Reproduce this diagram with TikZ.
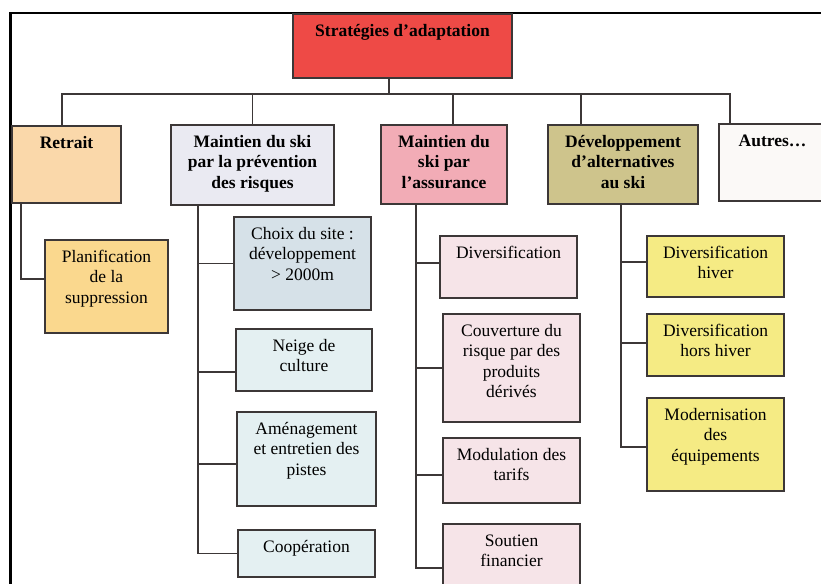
\documentclass[tikz,border=0pt]{standalone}
\usepackage{fontspec}
\setmainfont{Liberation Serif}
\usepackage{tikz}

\definecolor{rootred}{RGB}{238,74,70}
\definecolor{peach}{RGB}{250,216,170}
\definecolor{apricot}{RGB}{250,216,142}
\definecolor{lavender}{RGB}{234,234,242}
\definecolor{greyblue}{RGB}{214,225,232}
\definecolor{icecyan}{RGB}{228,240,242}
\definecolor{rosepink}{RGB}{242,172,182}
\definecolor{palepink}{RGB}{246,228,232}
\definecolor{khaki}{RGB}{206,196,140}
\definecolor{lemon}{RGB}{245,235,132}
\definecolor{offwhite}{RGB}{251,249,247}
\definecolor{boxline}{RGB}{60,55,55}

\newcommand{\boxtxt}[3]{\parbox[c][#2pt][t]{#1pt}{\centering\vspace{8pt}\strut#3}}

\tikzset{
  box/.style={draw=boxline, line width=1.2pt, anchor=north west, inner sep=0pt, outer sep=0pt,
    font=\fontsize{17.5}{20.5}\selectfont},
  head/.style={box, font=\fontsize{17.5}{20.5}\selectfont\bfseries},
  link/.style={draw=boxline, line width=1.4pt},
}

\begin{document}
\begin{tikzpicture}[x=1pt,y=-1pt]
\useasboundingbox (0,0) rectangle (821,583);
\draw[line width=2.6pt] (10.5,600) -- (10.5,13) -- (840,13);

\node[head,fill=rootred] (root) at (293,14) {\boxtxt{219}{64}{Stratégies d’adaptation}};

\node[head,fill=peach] (retrait) at (12,126) {\boxtxt{109}{77}{Retrait}};
\node[head,fill=lavender] (prevent) at (171,125) {\boxtxt{163}{80}{Maintien du ski\\par la prévention\\des risques}};
\node[head,fill=rosepink] (assur) at (381,125) {\boxtxt{126}{79}{Maintien du\\ski par\\l’assurance}};
\node[head,fill=khaki] (dev) at (548,125) {\boxtxt{150}{79}{Développement\\d’alternatives\\au ski}};
\node[head,fill=offwhite] (autres) at (719,124) {\boxtxt{107}{77}{Autres…}};

\node[box,fill=apricot] (plan) at (45,240) {\boxtxt{123}{93}{Planification\\de la\\suppression}};

\node[box,fill=greyblue] (choix) at (234,217) {\boxtxt{137}{93}{Choix du site :\\développement\\> 2000m}};
\node[box,fill=icecyan] (neige) at (236,329) {\boxtxt{136}{62}{Neige de\\culture}};
\node[box,fill=icecyan] (amenag) at (237,412) {\boxtxt{139}{94}{Aménagement\\et entretien des\\pistes}};
\node[box,fill=icecyan] (coop) at (238,530) {\boxtxt{137}{47}{Coopération}};

\node[box,fill=palepink] (divers) at (440,236) {\boxtxt{137}{62}{Diversification}};
\node[box,fill=palepink] (couvert) at (443,314) {\boxtxt{137}{108}{Couverture du\\risque par des\\produits\\dérivés}};
\node[box,fill=palepink] (modul) at (443,438) {\boxtxt{137}{65}{Modulation des\\tarifs}};
\node[box,fill=palepink] (soutien) at (443,524) {\boxtxt{137}{88}{Soutien\\financier}};

\node[box,fill=lemon] (hiver) at (647,236) {\boxtxt{137}{61}{Diversification\\hiver}};
\node[box,fill=lemon] (horshiver) at (647,314) {\boxtxt{137}{62}{Diversification\\hors hiver}};
\node[box,fill=lemon] (modern) at (647,398) {\boxtxt{137}{93}{Modernisation\\des\\équipements}};

% top level
\draw[link] ([xshift=-13.5pt]root.south) -- ++(0,16) coordinate (bus);
\draw[link] ([xshift=-4.5pt]retrait.north) |- (bus) -| ([xshift=-42.5pt]autres.north);
\foreach \n/\dx in {prevent/0, assur/9, dev/-42}
  \draw[link] ([xshift=\dx pt]\n.north) |- (bus);

% branches
\draw[link] ([xshift=-45.5pt]retrait.south) |- ([yshift=7.5pt]plan.west);

\coordinate (tp) at ([xshift=-54.5pt]prevent.south);
\draw[link] (tp) |- (coop.west);
\foreach \n/\dy in {choix/0, neige/-12, amenag/-5}
  \draw[link] ([yshift=\dy pt]\n.west) -| (tp);

\coordinate (ta) at ([xshift=-28pt]assur.south);
\draw[link] (ta) |- (soutien.west);
\foreach \n/\dy in {divers/4, couvert/0, modul/-4.5}
  \draw[link] ([yshift=\dy pt]\n.west) -| (ta);

\coordinate (td) at ([xshift=-2pt]dev.south);
\draw[link] (td) |- ([yshift=-2.5pt]modern.west);
\foreach \n/\dy in {hiver/4.5, horshiver/2}
  \draw[link] ([yshift=\dy pt]\n.west) -| (td);
\end{tikzpicture}
\end{document}
